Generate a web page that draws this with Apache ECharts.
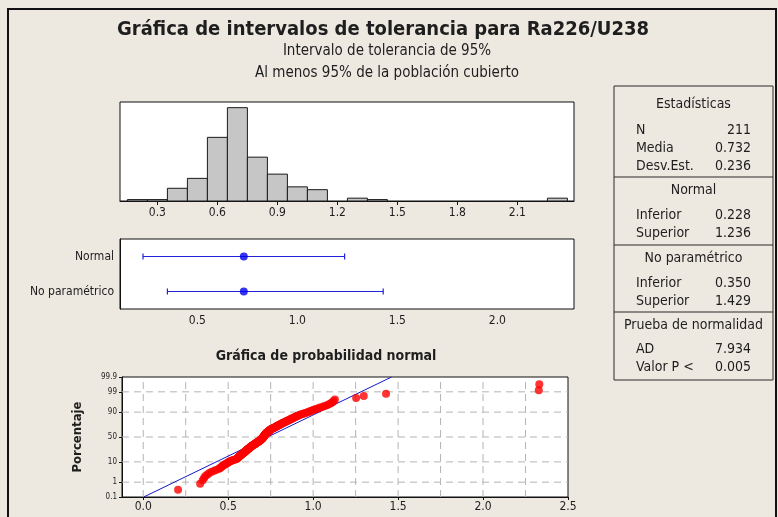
<!DOCTYPE html>
<html><head><meta charset="utf-8">
<script src="https://cdn.jsdelivr.net/npm/echarts@6/dist/echarts.min.js"></script>
<style>html,body{margin:0;padding:0;background:#EDE8E0;} #c{width:778px;height:517px;}</style>
</head><body><div id="c"></div>
<script>
const FONT = "'DejaVu Sans Condensed', 'DejaVu Sans', sans-serif";
const titleText = 'Gráfica de intervalos de tolerancia para Ra226/U238';
const subtitle1 = 'Intervalo de tolerancia de 95%';
const subtitle2 = 'Al menos 95% de la población cubierto';
const probTitle = 'Gráfica de probabilidad normal';
const probYName = 'Porcentaje';

// Histogram (bin centers, counts)
const histBinCenters = [0.2, 0.3, 0.4, 0.5, 0.6, 0.7, 0.8, 0.9, 1.0, 1.1, 1.3, 1.4, 2.3];
const histCounts     = [1,   1,   9,   16,  45,  66,  31,  19,  10,  8,   2,   1,   2];
const histBinWidth = 0.1;
const histTicks = [0.3, 0.6, 0.9, 1.2, 1.5, 1.8, 2.1];

// Tolerance intervals
const intervalMethods = ['Normal', 'No paramétrico'];
const intervalLower = [0.228, 0.350];
const intervalUpper = [1.236, 1.429];
const intervalCenter = [0.732, 0.732];
const intervalTicks = [0.5, 1.0, 1.5, 2.0];

// Normal probability plot: sorted observations
const probValues = [
 0.205, 0.335,
 0.350, 0.358, 0.366, 0.378, 0.389, 0.402, 0.418, 0.431, 0.447,
 0.452, 0.458, 0.463, 0.469, 0.474, 0.481, 0.486, 0.492, 0.498, 0.503, 0.509, 0.516, 0.522, 0.529, 0.537, 0.546,
 0.551, 0.553, 0.556, 0.558, 0.561, 0.563, 0.566, 0.568, 0.571, 0.574,
 0.576, 0.578, 0.581, 0.583, 0.585, 0.588, 0.590, 0.592, 0.594, 0.597,
 0.599, 0.601, 0.603, 0.605, 0.607, 0.609, 0.611, 0.613, 0.615, 0.617,
 0.619, 0.621, 0.623, 0.625, 0.627, 0.629, 0.631, 0.633, 0.635, 0.637,
 0.639, 0.641, 0.643, 0.645, 0.648,
 0.651, 0.653, 0.655, 0.657, 0.659, 0.661, 0.663, 0.665, 0.667, 0.669,
 0.671, 0.673, 0.675, 0.677, 0.679, 0.681, 0.683, 0.685, 0.687, 0.689,
 0.690, 0.692, 0.693, 0.695, 0.696, 0.698, 0.699, 0.700, 0.702, 0.703,
 0.704, 0.705, 0.706, 0.707, 0.708, 0.709, 0.710, 0.711, 0.712, 0.713,
 0.714, 0.715, 0.716, 0.717, 0.718, 0.719, 0.720, 0.721, 0.722, 0.724,
 0.725, 0.727, 0.728, 0.730, 0.732, 0.733, 0.735, 0.737, 0.739, 0.740,
 0.742, 0.743, 0.744, 0.746, 0.748, 0.749,
 0.752, 0.755, 0.758, 0.761, 0.764, 0.767, 0.770, 0.773, 0.776, 0.779,
 0.782, 0.785, 0.788, 0.791, 0.794, 0.797, 0.800, 0.803, 0.806, 0.809,
 0.812, 0.815, 0.818, 0.822, 0.826, 0.830, 0.834, 0.838, 0.841, 0.845, 0.848,
 0.853, 0.857, 0.861, 0.865, 0.869, 0.873, 0.877, 0.881, 0.886, 0.891,
 0.896, 0.901, 0.906, 0.911, 0.917, 0.923, 0.930, 0.938, 0.946,
 0.955, 0.963, 0.972, 0.981, 0.990, 0.998, 1.007, 1.018, 1.029, 1.041,
 1.056, 1.068, 1.081, 1.093, 1.104, 1.113, 1.121, 1.128,
 1.253, 1.298, 1.429, 2.328, 2.331
];
const probXTicks = [0.0, 0.5, 1.0, 1.5, 2.0, 2.5];
const probXGrid = [0.0, 0.25, 0.5, 0.75, 1.0, 1.25, 1.5, 1.75, 2.0, 2.25];
const probYTicks = [0.1, 1, 10, 50, 90, 99, 99.9];
const probYGrid = [1, 10, 50, 90, 99];

// Statistics
const statsMean = 0.732;
const statsSd = 0.236;
const tableHeaders = ['Estadísticas', 'Normal', 'No paramétrico', 'Prueba de normalidad'];
const tableLabels = [['N', 'Media', 'Desv.Est.'], ['Inferior', 'Superior'], ['Inferior', 'Superior'], ['AD', 'Valor P <']];
const tableValues = [['211', '0.732', '0.236'], ['0.228', '1.236'], ['0.350', '1.429'], ['7.934', '0.005']];

function normInv(p){
 const a=[-3.969683028665376e+01,2.209460984245205e+02,-2.759285104469687e+02,1.383577518672690e+02,-3.066479806614716e+01,2.506628277459239e+00];
 const b=[-5.447609879822406e+01,1.615858368580409e+02,-1.556989798598866e+02,6.680131188771972e+01,-1.328068155288572e+01];
 const c=[-7.784894002430293e-03,-3.223964580411365e-01,-2.400758277161838e+00,-2.549732539343734e+00,4.374664141464968e+00,2.938163982698783e+00];
 const d=[7.784695709041462e-03,3.224671290700398e-01,2.445134137142996e+00,3.754408661907416e+00];
 const pl=0.02425, ph=1-pl; let q,r;
 if(p<pl){q=Math.sqrt(-2*Math.log(p));return (((((c[0]*q+c[1])*q+c[2])*q+c[3])*q+c[4])*q+c[5])/((((d[0]*q+d[1])*q+d[2])*q+d[3])*q+1);}
 if(p<=ph){q=p-0.5;r=q*q;return (((((a[0]*r+a[1])*r+a[2])*r+a[3])*r+a[4])*r+a[5])*q/(((((b[0]*r+b[1])*r+b[2])*r+b[3])*r+b[4])*r+1);}
 q=Math.sqrt(-2*Math.log(1-p));return -(((((c[0]*q+c[1])*q+c[2])*q+c[3])*q+c[4])*q+c[5])/((((d[0]*q+d[1])*q+d[2])*q+d[3])*q+1);
}

const zMin = normInv(probYTicks[0] / 100);
const zMax = normInv(probYTicks[probYTicks.length - 1] / 100);
const probYZ = probYTicks.map(t => normInv(t / 100));
const n = probValues.length;
const probPoints = probValues.map((v, i) => [v, normInv((i + 1 - 0.3) / (n + 0.4))]);
const fitLine = [[statsMean + zMin * statsSd, zMin], [statsMean + zMax * statsSd, zMax]];
const probXMin = -0.125, probXMax = 2.5;

const TXT = '#1e1e1e';
const chart = echarts.init(document.getElementById('c'), null, {renderer: 'canvas'});

function txt(x, y, text, font, align) {
  return {type: 'text', x: x, y: y, silent: true,
    style: {text: text, font: font, fill: TXT, align: align || 'center', verticalAlign: 'middle',
            textAlign: align || 'center', textVerticalAlign: 'middle'}};
}

// Table graphics (layout)
const tblX = 614, tblW = 159, tblTop = 86, tblBot = 380;
const sectionTops = [86, 177, 245, 312];
const headerY = [104, 190, 258, 325];
const rowStartY = [130, 215, 283, 349];
const rowStep = 18;
const TFONT = '14px ' + FONT;
const tableGraphics = [
  {type: 'rect', shape: {x: tblX, y: tblTop, width: tblW, height: tblBot - tblTop},
   style: {fill: 'none', stroke: '#2a2a2a', lineWidth: 1}, silent: true}
];
sectionTops.slice(1).forEach(y => tableGraphics.push({type: 'line', shape: {x1: tblX, y1: y, x2: tblX + tblW, y2: y},
  style: {stroke: '#2a2a2a', lineWidth: 1}, silent: true}));
tableHeaders.forEach((h, s) => {
  tableGraphics.push(txt(tblX + tblW / 2, headerY[s], h, TFONT, 'center'));
  tableLabels[s].forEach((lab, r) => {
    tableGraphics.push(txt(tblX + 22, rowStartY[s] + r * rowStep, lab, TFONT, 'left'));
    tableGraphics.push(txt(tblX + 137, rowStartY[s] + r * rowStep, tableValues[s][r], TFONT, 'right'));
  });
});

const axisLineStyle = {onZero: false, lineStyle: {color: '#111', width: 1}};
const labelStyle = {color: TXT, fontFamily: FONT, fontSize: 12};

const option = {
  backgroundColor: '#EDE8E0',
  animation: false,
  grid: [
    {left: 120, top: 102, width: 454, height: 99, show: true, backgroundColor: '#fff', borderColor: '#111', borderWidth: 1},
    {left: 120, top: 239, width: 454, height: 70, show: true, backgroundColor: '#fff', borderColor: '#111', borderWidth: 1},
    {left: 122, top: 377, width: 446, height: 120, show: true, backgroundColor: '#fff', borderColor: '#111', borderWidth: 1}
  ],
  xAxis: [
    {type: 'value', gridIndex: 0, min: 0.113, max: 2.383, axisLine: axisLineStyle,
     axisTick: {length: 4, customValues: histTicks, lineStyle: {color: '#111'}},
     axisLabel: Object.assign({customValues: histTicks, margin: 6, formatter: v => v.toFixed(1)}, labelStyle),
     splitLine: {show: false}},
    {type: 'value', gridIndex: 1, min: 0.113, max: 2.383, axisLine: axisLineStyle,
     axisTick: {length: 4, customValues: intervalTicks, lineStyle: {color: '#111'}},
     axisLabel: Object.assign({customValues: intervalTicks, margin: 6, formatter: v => v.toFixed(1)}, labelStyle),
     splitLine: {show: false}},
    {type: 'value', gridIndex: 2, min: probXMin, max: probXMax, axisLine: axisLineStyle,
     axisTick: {length: 3, customValues: probXTicks, lineStyle: {color: '#111'}},
     axisLabel: Object.assign({customValues: probXTicks, margin: 4, formatter: v => v.toFixed(1)}, labelStyle),
     splitLine: {show: false}}
  ],
  yAxis: [
    {type: 'value', gridIndex: 0, min: 0, max: 70, axisLine: {show: false}, axisTick: {show: false},
     axisLabel: {show: false}, splitLine: {show: false}},
    {type: 'category', gridIndex: 1, data: intervalMethods, inverse: true, axisLine: axisLineStyle,
     axisTick: {length: 4, alignWithLabel: true, lineStyle: {color: '#111'}},
     axisLabel: Object.assign({margin: 6}, labelStyle), splitLine: {show: false}},
    {type: 'value', gridIndex: 2, min: zMin, max: zMax, axisLine: axisLineStyle,
     axisTick: {length: 3, customValues: probYZ, lineStyle: {color: '#111'}},
     axisLabel: {customValues: probYZ, margin: 5, color: TXT, fontFamily: FONT, fontSize: 8, hideOverlap: false,
       formatter: v => { let best = 0; probYZ.forEach((z, i) => { if (Math.abs(z - v) < Math.abs(probYZ[best] - v)) best = i; }); return String(probYTicks[best]); }},
     splitLine: {show: false},
     name: probYName, nameLocation: 'middle', nameGap: 38, nameRotate: 90,
     nameTextStyle: {color: TXT, fontFamily: FONT, fontSize: 13, fontWeight: 'bold'}}
  ],
  series: [
    {type: 'custom', xAxisIndex: 0, yAxisIndex: 0,
     data: histBinCenters.map((c, i) => [c, histCounts[i]]),
     renderItem: (params, api) => {
       const c = api.value(0), h = api.value(1);
       const p0 = api.coord([c - histBinWidth / 2, 0]);
       const p1 = api.coord([c + histBinWidth / 2, h]);
       return {type: 'rect', shape: {x: p0[0], y: p1[1], width: p1[0] - p0[0], height: p0[1] - p1[1]},
               style: {fill: '#C6C6C6', stroke: '#1a1a1a', lineWidth: 1}};
     }},
    {type: 'custom', xAxisIndex: 1, yAxisIndex: 1,
     data: intervalMethods.map((m, i) => [intervalLower[i], intervalUpper[i], i]),
     renderItem: (params, api) => {
       const i = api.value(2);
       const p0 = api.coord([api.value(0), i]);
       const p1 = api.coord([api.value(1), i]);
       const st = {stroke: '#2222DD', lineWidth: 1.2};
       return {type: 'group', children: [
         {type: 'line', shape: {x1: p0[0], y1: p0[1], x2: p1[0], y2: p1[1]}, style: st},
         {type: 'line', shape: {x1: p0[0], y1: p0[1] - 3, x2: p0[0], y2: p0[1] + 3}, style: st},
         {type: 'line', shape: {x1: p1[0], y1: p1[1] - 3, x2: p1[0], y2: p1[1] + 3}, style: st}
       ]};
     }},
    {type: 'scatter', xAxisIndex: 1, yAxisIndex: 1, symbolSize: 8, itemStyle: {color: '#0000EE'},
     data: intervalMethods.map((m, i) => [intervalCenter[i], i])},
    {type: 'custom', xAxisIndex: 2, yAxisIndex: 2, silent: true,
     data: probXGrid.map(v => [v, 0]).concat(probYGrid.map(t => [0, normInv(t / 100)])),
     renderItem: (params, api) => {
       const isV = params.dataIndex < probXGrid.length;
       let a, b;
       if (isV) { a = api.coord([api.value(0), zMin]); b = api.coord([api.value(0), zMax]); }
       else { a = api.coord([probXMin, api.value(1)]); b = api.coord([probXMax, api.value(1)]); }
       return {type: 'line', shape: {x1: a[0], y1: a[1], x2: b[0], y2: b[1]},
               style: {stroke: '#B4B4B4', lineWidth: 1, lineDash: [7, 5]}};
     }},
    {type: 'line', xAxisIndex: 2, yAxisIndex: 2, data: fitLine, symbol: 'none', clip: true,
     lineStyle: {color: '#1515C8', width: 1}},
    {type: 'scatter', xAxisIndex: 2, yAxisIndex: 2, data: probPoints, symbolSize: 8,
     itemStyle: {color: '#FF0000'}, z: 5}
  ],
  graphic: [
    {type: 'rect', shape: {x: 8, y: 9, width: 768, height: 540}, style: {fill: 'none', stroke: '#111', lineWidth: 2}, silent: true},
    txt(383, 30, titleText, 'bold 20px ' + FONT, 'center'),
    txt(387, 51, subtitle1, '15px ' + FONT, 'center'),
    txt(387, 73, subtitle2, '15px ' + FONT, 'center'),
    txt(326, 356, probTitle, 'bold 14px ' + FONT, 'center')
  ].concat(tableGraphics)
};
chart.setOption(option);
</script>
</body></html>
